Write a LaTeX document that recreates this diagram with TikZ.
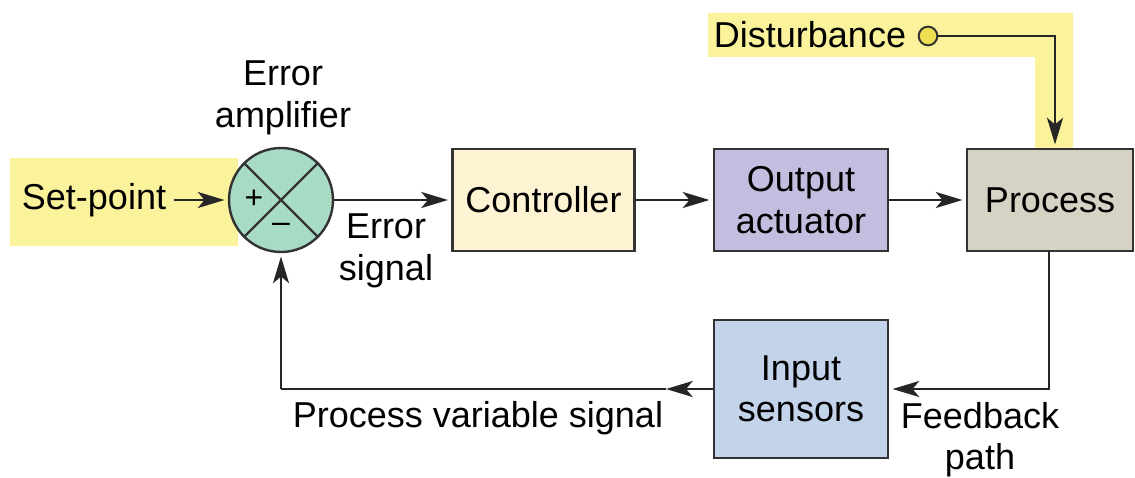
\documentclass[tikz,border=0pt]{standalone}
\usepackage{fontspec}
\setmainfont{Liberation Sans}
\usetikzlibrary{arrows.meta}
\definecolor{hilite}{HTML}{FBF39B}
\definecolor{sumfill}{HTML}{A8DBC4}
\definecolor{ctrlfill}{HTML}{FEF3D2}
\definecolor{actfill}{HTML}{C3BEDF}
\definecolor{procfill}{HTML}{D7D3C4}
\definecolor{sensfill}{HTML}{C3D3EA}
\definecolor{dotfill}{HTML}{EFE052}
\definecolor{edge}{HTML}{333333}
\tikzset{
  block/.style={draw=edge, line width=1.8pt, align=center, inner sep=0pt},
  lbl/.style={align=center, inner sep=0pt},
  flow/.style={draw=black!85, line width=1.8pt, shorten >=2.5pt,
    -{Stealth[length=20pt,width=12pt,inset=5pt]}},
  wire/.style={draw=black!85, line width=1.8pt},
}
\begin{document}
\begin{tikzpicture}[x=0.75pt, y=-0.75pt, font=\fontsize{27pt}{31pt}\selectfont]
\useasboundingbox (0,0) rectangle (1135,478);
% highlighted input and disturbance bands
\fill[hilite] (10,158) rectangle (238,246);
\fill[hilite] (708,13) -- (1073,13) -- (1073,148) -- (1035,148) -- (1035,57) -- (708,57) -- cycle;

% summing junction
\node[circle, draw=edge, line width=1.8pt, fill=sumfill, minimum size=78pt, inner sep=0pt] (sum) at (281,200) {};
\draw[edge, line width=1.8pt] (sum.north west) -- (sum.south east) (sum.north east) -- (sum.south west);
\node[lbl, font=\fontsize{24pt}{26pt}\selectfont] (plus) at (254,199) {+};
\node[lbl, font=\fontsize{24pt}{26pt}\selectfont] (minus) at (281,228) {\textendash};

% blocks
\node[block, fill=ctrlfill, minimum width=136.5pt, minimum height=76.5pt] (ctrl) at (543.5,200) {Controller};
\node[block, fill=actfill, minimum width=130.5pt, minimum height=76.5pt] (act) at (801,200) {Output\\actuator};
\node[block, fill=procfill, minimum width=124.5pt, minimum height=76.5pt] (proc) at (1050,200) {Process};
\node[block, fill=sensfill, minimum width=130.5pt, minimum height=103.5pt] (sens) at (801,389) {Input\\sensors};

% labels
\node[lbl] (sp) at (94,200) {Set-point};
\node[lbl] (amp) at (283,98) {Error\\amplifier};
\node[lbl] (esig) at (386,251) {Error\\signal};
\node[lbl] (dist) at (810,35) {Disturbance};
\node[lbl] (fb) at (980,440) {Feedback\\path};
\node[lbl] (pvs) at (478,418) {Process variable signal};
\node[circle, draw=edge, line width=1.5pt, fill=dotfill, minimum size=14pt, inner sep=0pt] (dot) at (928,36) {};

% connectors
\coordinate (dcorner) at (1055,36);
\coordinate (fbtop) at (1049,251);
\coordinate (fbcorner) at (1049,389);
\coordinate (pvmid) at (666,389);
\coordinate (pvcorner) at (281,389);

\draw[flow] (sp.east) ++(8,0) -- (sum.west);
\draw[flow] (sum.east) -- (ctrl.west);
\draw[flow] (ctrl.east) -- (act.west);
\draw[flow] (act.east) -- (proc.west);
\draw[flow] (dot.east) -- (dcorner) -- (dcorner |- proc.north);
\draw[flow] (fbtop) -- (fbcorner) -- (sens.east);
\draw[flow, shorten >=0pt] (sens.west) -- (pvmid);
\draw[wire] (pvmid) -- (pvcorner);
\draw[flow] (pvcorner) -- (sum.south);
\end{tikzpicture}
\end{document}
